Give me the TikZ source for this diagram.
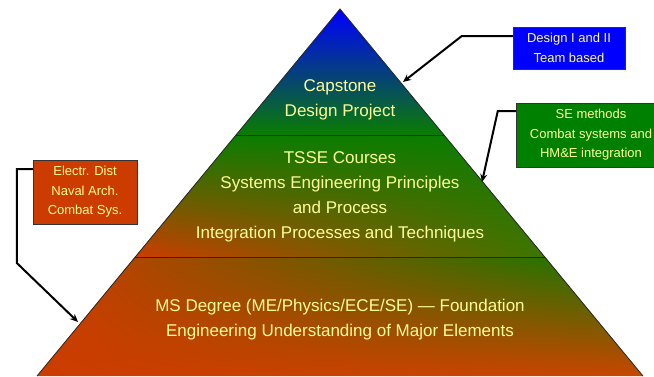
\documentclass[tikz,border=0pt]{standalone}
\usepackage{fontspec}
\setmainfont{Liberation Sans}
\usetikzlibrary{positioning}
\usetikzlibrary{arrows.meta}
\usetikzlibrary{shadings}

\definecolor{capblue}{RGB}{0,0,255}
\definecolor{pyrgreen}{RGB}{10,125,0}
\definecolor{pyrolive}{RGB}{60,118,0}
\definecolor{pyrred}{RGB}{204,60,0}
\definecolor{pyrorange}{RGB}{200,70,0}
\definecolor{labyellow}{RGB}{255,255,153}
\definecolor{boxgreen}{RGB}{0,128,0}

\tikzset{
  pyrtext/.style={text=labyellow, align=center, font=\fontsize{17}{25}\selectfont},
  notebox/.style={draw=black!80, text=labyellow, align=center,
    font=\fontsize{13}{19.5}\selectfont, inner sep=0pt},
  callout/.style={line width=2pt, -{Stealth[length=8pt,width=7pt]}}
}

\begin{document}
\begin{tikzpicture}[x=1pt,y=-1pt]
\useasboundingbox (0,0) rectangle (654,376);
% pyramid corners
\coordinate (apex) at (340,9);
\coordinate (topl) at (236,135);
\coordinate (topr) at (444,135);
\coordinate (midl) at (135,257);
\coordinate (midr) at (545,257);
\coordinate (basel) at (37,376);
\coordinate (baser) at (643,376);
% bands
\shade[top color=capblue, bottom color=pyrgreen] (apex) -- (topr) -- (topl) -- cycle;
\shade[upper left=pyrgreen, upper right=pyrgreen, lower left=pyrred, lower right=pyrolive]
  (topl) -- (topr) -- (midr) -- (midl) -- cycle;
\shade[upper left=pyrred, upper right=pyrgreen, lower left=pyrred, lower right=pyrorange]
  (midl) -- (midr) -- (baser) -- (basel) -- cycle;
\draw[black!85, line width=0.8pt] (basel) -- (apex) -- (baser);
\draw[black!85, line width=0.8pt] (topl) -- (topr);
\draw[black!85, line width=0.8pt] (midl) -- (midr);
% texts
\node[pyrtext] (capstone) at (340,100) {Capstone\\Design Project};
\node[pyrtext] (tsse) at (340,197) {TSSE Courses\\Systems Engineering Principles\\and Process\\Integration Processes and Techniques};
\node[pyrtext] (msdeg) at (340,320) {MS Degree (ME/Physics/ECE/SE) --- Foundation\\Engineering Understanding of Major Elements};
% notes
\node[notebox, fill=capblue, minimum width=112pt, minimum height=42pt] (design) at (569,48) {Design I and II\\Team based};
\node[notebox, fill=boxgreen, minimum width=150pt, minimum height=64pt] (semeth) at (591,135) {SE methods\\Combat systems and\\HM\&E integration};
\node[notebox, fill=pyrred, minimum width=104pt, minimum height=64pt] (electr) at (85,192) {Electr. Dist\\Naval Arch.\\Combat Sys.};
% arrow tips on the edges
\coordinate (tipcap) at (403,82);
\coordinate (tiptsse) at (482,182);
\coordinate (tipms) at (78,322);
\draw[callout] ([yshift=12pt]design.west) -- ++(-51,0) -- (tipcap);
\draw[callout] ([yshift=24pt]semeth.west) -- ++(-18,0) -- (tiptsse);
\draw[callout] ([yshift=23pt]electr.west) -- ++(-16,0) -- ++(0,94) -- (tipms);
\end{tikzpicture}
\end{document}
